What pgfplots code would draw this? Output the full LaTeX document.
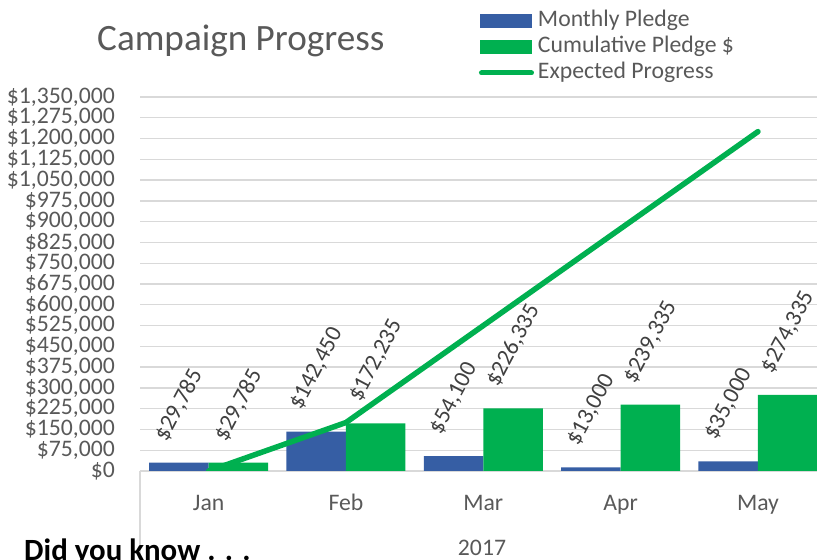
\documentclass[border=0pt]{standalone}
\usepackage{pgfplots}
\pgfplotsset{compat=1.18}
\usepackage{fontspec}
\setmainfont{Carlito}
\usepackage{graphicx}
\definecolor{cblue}{RGB}{54,94,164}
\definecolor{cgreen}{RGB}{0,176,80}
\definecolor{cgrid}{RGB}{217,217,217}
\definecolor{ctext}{RGB}{89,89,89}
\definecolor{clabel}{RGB}{64,64,64}
\begin{document}
\begin{tikzpicture}[x=1bp,y=1bp]
\useasboundingbox (0,0) rectangle (817,560);
\begin{axis}[
  at={(140bp,89bp)}, anchor=south west,
  scale only axis, width=677bp, height=374bp,
  xmin=-0.5, xmax=4.43, ymin=0, ymax=1350000,
  ybar=0pt, bar width=59.5bp,
  xtick={0,1,2,3,4}, xticklabels={Jan,Feb,Mar,Apr,May},
  ytick distance=75000,
  scaled y ticks=false,
  ymajorgrids, major grid style={cgrid, line width=1.3bp},
  axis line style={draw=none},
  major tick length=0pt,
  /pgf/number format/fixed,
  /pgf/number format/precision=0,
  /pgf/number format/1000 sep={,},
  /pgf/number format/assume math mode=true,
  yticklabel={\$\pgfmathprintnumber{\tick}},
  tick label style={font=\fontsize{23.8}{25}\selectfont, text=ctext},
  yticklabel style={inner sep=0pt, xshift=-25bp},
  xticklabel style={anchor=base, inner sep=0pt, yshift=-40bp},
  legend style={at={(axis description cs:0.5007,1.2326)}, anchor=north west,
    draw=none, fill=none, inner sep=0pt, outer sep=0pt,
    font=\fontsize{23.8}{25}\selectfont, text=ctext, row sep=4bp,
    nodes={inner xsep=4bp, inner ysep=0pt, text height=17bp, text depth=5bp}},
  legend cell align=left,
  every node near coord/.append style={anchor=south, inner sep=0pt, yshift=19bp,
    font=\fontsize{23.5}{25}\selectfont, text=clabel},
]
\addplot[fill=cblue, draw=none,
  nodes near coords={\rotatebox{62}{\$\pgfmathprintnumber{\pgfplotspointmeta}}},
  legend image code/.code={\fill[cblue] (0bp,-7bp) rectangle (52bp,7bp);}]
  coordinates {(0,29785) (1,142450) (2,54100) (3,13000) (4,35000)};
\addlegendentry{Monthly Pledge}
\addplot[fill=cgreen, draw=none,
  nodes near coords={\rotatebox{62}{\$\pgfmathprintnumber{\pgfplotspointmeta}}},
  legend image code/.code={\fill[cgreen] (0bp,-7bp) rectangle (52bp,7bp);}]
  coordinates {(0,29785) (1,172235) (2,226335) (3,239335) (4,274335)};
\addlegendentry{Cumulative Pledge \$}
\addplot[sharp plot, draw=cgreen, line width=5.5bp, line cap=round, line join=round,
  legend image code/.code={\draw[cgreen, line width=5bp, line cap=round] (1bp,0bp) -- (51bp,0bp);}]
  coordinates {(0,0) (1,175000) (2,525000) (3,875000) (4,1225000)};
\addlegendentry{Expected Progress}
\end{axis}
\draw[cgrid, line width=1.3bp] (140,89) -- (140,0);
\node[anchor=base west, inner sep=0pt, font=\fontsize{37.3}{40}\selectfont, text=ctext] at (97,509) {Campaign Progress};
\node[inner sep=0pt, font=\fontsize{23.8}{25}\selectfont, text=ctext] at (482,12) {2017};
\node[anchor=base west, inner sep=0pt, font=\bfseries\fontsize{31}{34}\selectfont, text=black] at (24,-1) {Did you know . . .};
\end{tikzpicture}
\end{document}
